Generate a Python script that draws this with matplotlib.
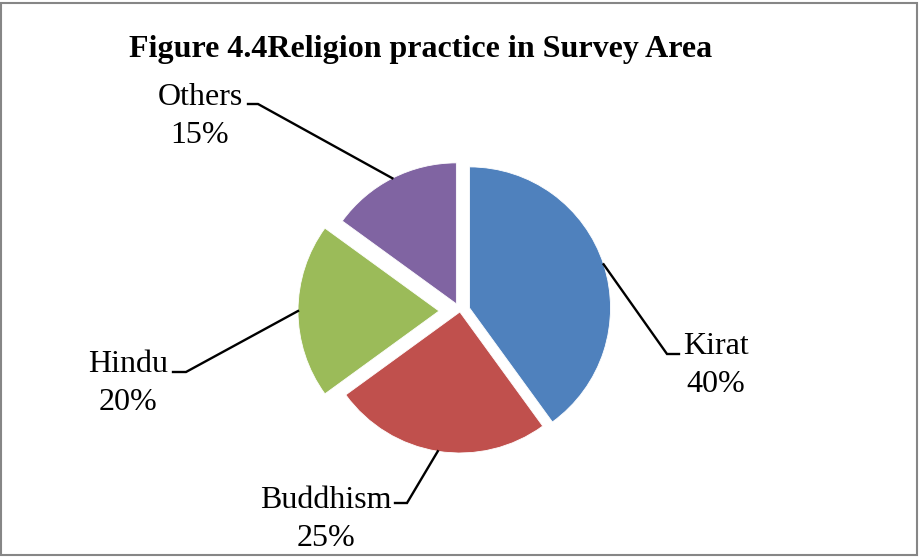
import numpy as np
import matplotlib
matplotlib.use("Agg")
import matplotlib.pyplot as plt
from matplotlib.patches import Rectangle

# religion shares (%)
religions = ["Kirat", "Buddhism", "Hindu", "Others"]
shares = [40, 25, 20, 15]
colors = ["#4F81BD", "#C0504D", "#9BBB59", "#8064A2"]
# pie explode offsets (data units = pixels here)
explode = [10, 1, 21, 8]

# label anchors (x, baseline y) and leader elbows, in pixel units (y up)
W, H = 920, 558
label_pos = [(716, H - 354), (326, H - 508), (128, H - 372), (200, H - 105)]
elbows = [((667, H - 354), (679, H - 354)),
          ((407, H - 503), (395, H - 503)),
          ((186, H - 372), (173, H - 372)),
          ((258, H - 104), (248, H - 104))]

plt.rcParams["font.family"] = ["Liberation Serif", "DejaVu Serif"]

fig = plt.figure(figsize=(W / 100, H / 100), dpi=100)
ax = fig.add_axes([0, 0, 1, 1])

radius = 141
center = (460, H - 311)
wedges, _ = ax.pie(shares, colors=colors, explode=explode, startangle=90,
                   counterclock=False, radius=radius, center=center,
                   wedgeprops=dict(linewidth=0.6, edgecolor="white"))

ax.set_xlim(0, W)
ax.set_ylim(0, H)
ax.set_aspect("equal")
ax.axis("off")

for w, name, pct, (tx, ty), (e1, e2) in zip(wedges, religions, shares,
                                              label_pos, elbows):
    mid = np.deg2rad((w.theta1 + w.theta2) / 2)
    cx, cy = w.center
    px, py = cx + w.r * np.cos(mid), cy + w.r * np.sin(mid)
    ax.plot([px, e1[0], e2[0]], [py, e1[1], e2[1]], color="black", lw=1.7,
            solid_joinstyle="miter")
    ax.text(tx, ty, name, ha="center", va="baseline", fontsize=23)
    ax.text(tx, ty - 38, f"{pct}%", ha="center", va="baseline", fontsize=23)

ax.text(421, H - 57, "Figure 4.4Religion practice in Survey Area",
        ha="center", va="baseline", fontsize=23, fontweight="bold")

# chart frame
fig.patches.append(Rectangle((1 / W, 3 / H), 916 / W, 552 / H,
                             transform=fig.transFigure, fill=False,
                             edgecolor="#868686", linewidth=1.5))

fig.savefig("out.png", dpi=100)
